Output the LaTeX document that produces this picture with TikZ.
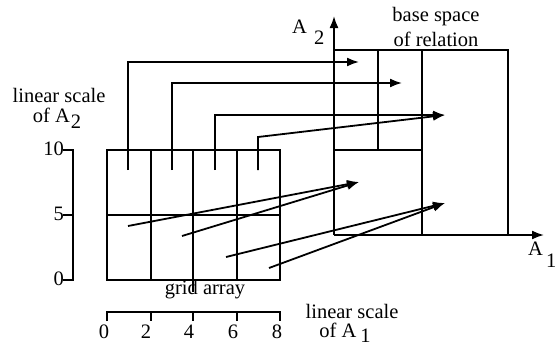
\documentclass[tikz,border=0pt]{standalone}
\usepackage{fontspec}
\setmainfont{Liberation Serif}
\usetikzlibrary{arrows.meta}
\begin{document}
\begin{tikzpicture}[x=1pt,y=-1pt,
  ln/.style={line width=1.8pt},
  arr/.style={line width=1.8pt,-{Latex[length=12pt,width=9pt]}},
  lbl/.style={inner sep=0pt,font=\fontsize{20.5}{21}\selectfont},
  num/.style={inner sep=0pt,font=\fontsize{20.5}{21}\selectfont}]
\useasboundingbox (0,0) rectangle (559,348);
% grid array
\draw[ln] (107,150) rectangle (280,280);
\draw[ln] (151,150) -- (151,280);
\draw[ln] (193,150) -- (193,292);
\draw[ln] (237,150) -- (237,280);
\draw[ln] (107,215) -- (280,215);
% left scale
\draw[ln] (63,150) -- (73,150) -- (73,280) -- (63,280);
\draw[ln] (63,215) -- (73,215);
\node[num,anchor=east] (n10) at (64,149) {10};
\node[num,anchor=east] (n5) at (64,214) {5};
\node[num,anchor=east] (n0) at (64,279) {0};
\node[lbl] (ls2) at (59,95) {linear scale};
\node[lbl] (of2) at (57,118) {of A\kern1pt\raisebox{-6pt}{2}};
% bottom scale
\draw[ln] (107,321) -- (107,312) -- (280,312) -- (280,321);
\foreach \x in {151,193,237} \draw[ln] (\x,312) -- (\x,321);
\foreach \x/\v in {104/0,146/2,189/4,233/6,277/8}
  \node[num] (b\v) at (\x,332) {\v};
\node[lbl] (ga) at (205,290) {grid array};
\node[lbl] (ls1) at (352,311) {linear scale};
\node[lbl] (of1) at (345,333) {of A\hspace{4pt}\raisebox{-5pt}{1}};
% axes
\coordinate (O) at (334,235);
\coordinate (Y) at (334,16);
\coordinate (X) at (544,235);
\draw[arr] (O) -- (Y);
\draw[arr] (O) -- (X);
\node[lbl,anchor=west] (a2) at (292,32) {A\hspace{7pt}\raisebox{-11pt}{2}};
\node[lbl,anchor=west] (a1) at (528,255) {A\hspace{3pt}\raisebox{-12pt}{1}};
% base space
\draw[ln] (334,50) -- (508,50) -- (508,235);
\draw[ln] (378,50) -- (378,150);
\draw[ln] (422,50) -- (422,235);
\draw[ln] (334,150) -- (422,150);
\node[lbl] (bs1) at (436,17) {base space};
\node[lbl] (bs2) at (436,39) {of relation};
% arrows
\coordinate (s1) at (128,170);
\coordinate (s2) at (172,170);
\coordinate (s3) at (215,170);
\coordinate (s4) at (258,170);
\coordinate (k4) at (258,137);
\coordinate (t1) at (359,62);
\coordinate (t2) at (402,83);
\coordinate (t3) at (445,115);
\coordinate (t4) at (359,182);
\coordinate (t5) at (445,203);
\coordinate (l1) at (128,226);
\coordinate (l2) at (182,236);
\coordinate (l3) at (226,257);
\coordinate (l4) at (269,268);
\draw[arr] (s1) |- (t1);
\draw[arr] (s2) |- (t2);
\draw[arr] (s3) |- (t3);
\draw[arr] (s4) -- (k4) -- (t3);
\draw[arr] (l1) -- (t4);
\draw[arr] (l2) -- (t4);
\draw[arr] (l3) -- (t5);
\draw[arr] (l4) -- (t5);
\end{tikzpicture}
\end{document}
